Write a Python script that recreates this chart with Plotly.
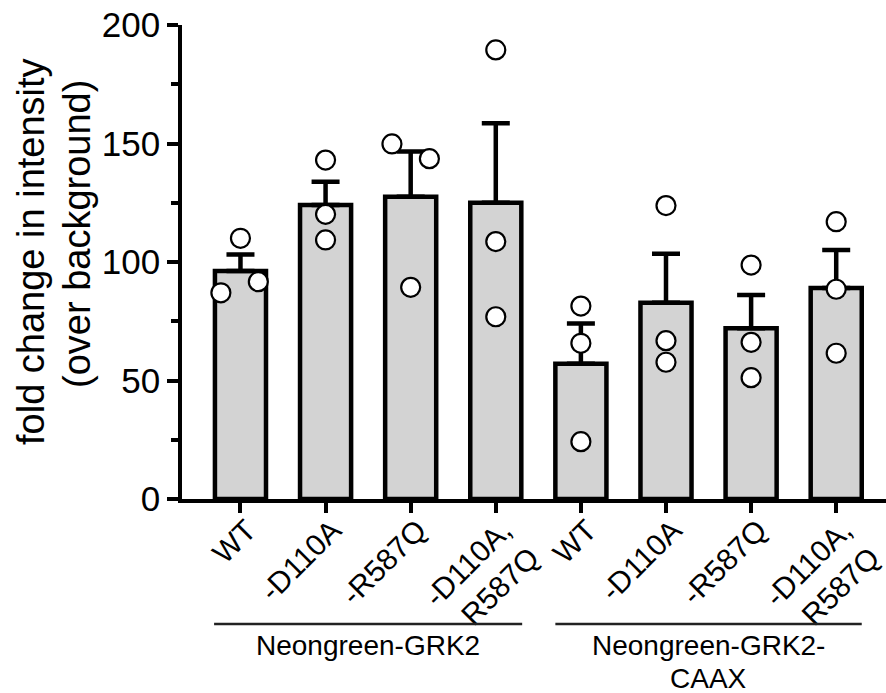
import plotly.graph_objects as go

# Conditions (x categories) and group names
tick_labels = ["WT", "-D110A", "-R587Q", "-D110A,<br>R587Q",
               "WT", "-D110A", "-R587Q", "-D110A,<br>R587Q"]
group_names = ["Neongreen-GRK2", "Neongreen-GRK2-", "CAAX"]

# Bar heights (mean) and upward SEM
means = [96.2, 124.1, 127.5, 125.0, 57.1, 82.8, 72.0, 89.0]
sems = [7.0, 9.8, 19.1, 33.5, 16.9, 20.7, 14.1, 16.1]

# Individual replicates per condition, with small horizontal offsets
points = [
    [110.0, 87.0, 91.7],
    [143.0, 120.1, 109.3],
    [149.8, 143.6, 89.3],
    [189.5, 108.6, 76.9],
    [81.4, 65.7, 24.2],
    [123.8, 66.8, 57.7],
    [98.7, 66.1, 51.2],
    [117.0, 88.5, 61.5],
]
point_offsets = [
    [0.0, -0.23, 0.21],
    [0.0, 0.0, 0.0],
    [-0.22, 0.22, 0.0],
    [0.0, 0.0, 0.0],
    [0.0, 0.0, 0.0],
    [0.0, 0.0, 0.0],
    [0.0, 0.0, 0.0],
    [0.0, 0.0, 0.0],
]

FONT = "Arial, 'Liberation Sans', Helvetica, sans-serif"
cats = list(range(len(means)))

fig = go.Figure()

fig.add_trace(go.Bar(
    x=cats, y=means, width=0.6,
    marker=dict(color="#d3d3d3", line=dict(color="black", width=4.5)),
    error_y=dict(type="data", symmetric=False, array=sems,
                 arrayminus=[0] * len(sems),
                 color="black", thickness=4.5, width=14),
    showlegend=False, hoverinfo="skip",
))

px_x, px_y = [], []
for i, (vals, offs) in enumerate(zip(points, point_offsets)):
    for v, o in zip(vals, offs):
        px_x.append(i + o)
        px_y.append(v)

fig.add_trace(go.Scatter(
    x=px_x, y=px_y, mode="markers",
    marker=dict(symbol="circle", size=19, color="white",
                line=dict(color="black", width=2.2)),
    showlegend=False, hoverinfo="skip",
))

# Plot area: 704 x 474 px
L, T, W, H = 182, 25, 704, 474
x0_range, x1_range = -0.687, 7.585


def paper_y(py):
    return (T + H - py) / H


def paper_x(px):
    return (px - L) / W


# Group brackets under the tick labels
line_y = paper_y(624)
for a, b in [(-0.31, 3.31), (3.70, 7.30)]:
    fig.add_shape(type="line", xref="x", yref="paper",
                  x0=a, x1=b, y0=line_y, y1=line_y,
                  line=dict(color="#222222", width=2.5))

GROUP_FONT = dict(family=FONT, size=28, color="black")
fig.add_annotation(x=1.5, xref="x", y=paper_y(646), yref="paper",
                   text=group_names[0], showarrow=False, font=GROUP_FONT,
                   xanchor="center", yanchor="middle")
fig.add_annotation(x=5.5, xref="x", y=paper_y(646), yref="paper",
                   text=group_names[1], showarrow=False, font=GROUP_FONT,
                   xanchor="center", yanchor="middle")
fig.add_annotation(x=5.5, xref="x", y=paper_y(678), yref="paper",
                   text=group_names[2], showarrow=False, font=GROUP_FONT,
                   xanchor="center", yanchor="middle")

# Y-axis title, two lines
TITLE_FONT = dict(family=FONT, size=38, color="black")
fig.add_annotation(x=paper_x(31), xref="paper", y=paper_y(252), yref="paper",
                   text="fold change in intensity", textangle=-90,
                   showarrow=False, font=TITLE_FONT,
                   xanchor="center", yanchor="middle")
fig.add_annotation(x=paper_x(77), xref="paper", y=paper_y(234), yref="paper",
                   text="(over background)", textangle=-90,
                   showarrow=False, font=TITLE_FONT,
                   xanchor="center", yanchor="middle")

fig.update_layout(
    width=886, height=693,
    margin=dict(l=L, r=0, t=T, b=693 - T - H, pad=0, autoexpand=False),
    paper_bgcolor="white", plot_bgcolor="white",
    font=dict(family=FONT, size=28, color="black"),
    xaxis=dict(
        range=[x0_range, x1_range], tickmode="array",
        tickvals=cats, ticktext=tick_labels, tickangle=-45,
        ticks="outside", ticklen=10, tickwidth=3.5, tickcolor="black",
        showline=True, linecolor="black", linewidth=3.5,
        showgrid=False, zeroline=False, automargin=False,
        ticklabelstandoff=-12, ticklabelshift=7,
        ticklabeloverflow="allow",
        tickfont=dict(family=FONT, size=30, color="black"),
    ),
    yaxis=dict(
        range=[0, 200], tickmode="array", tickvals=[0, 50, 100, 150, 200],
        ticks="outside", ticklen=11, tickwidth=3.5, tickcolor="black",
        minor=dict(tickmode="array", tickvals=[25, 75, 125, 175],
                   ticks="outside", ticklen=7, tickwidth=3.5,
                   tickcolor="black", showgrid=False),
        showline=True, linecolor="black", linewidth=3.5,
        showgrid=False, zeroline=False, automargin=False,
        tickfont=dict(family=FONT, size=35, color="black"),
    ),
)

fig.write_html("out.html")
